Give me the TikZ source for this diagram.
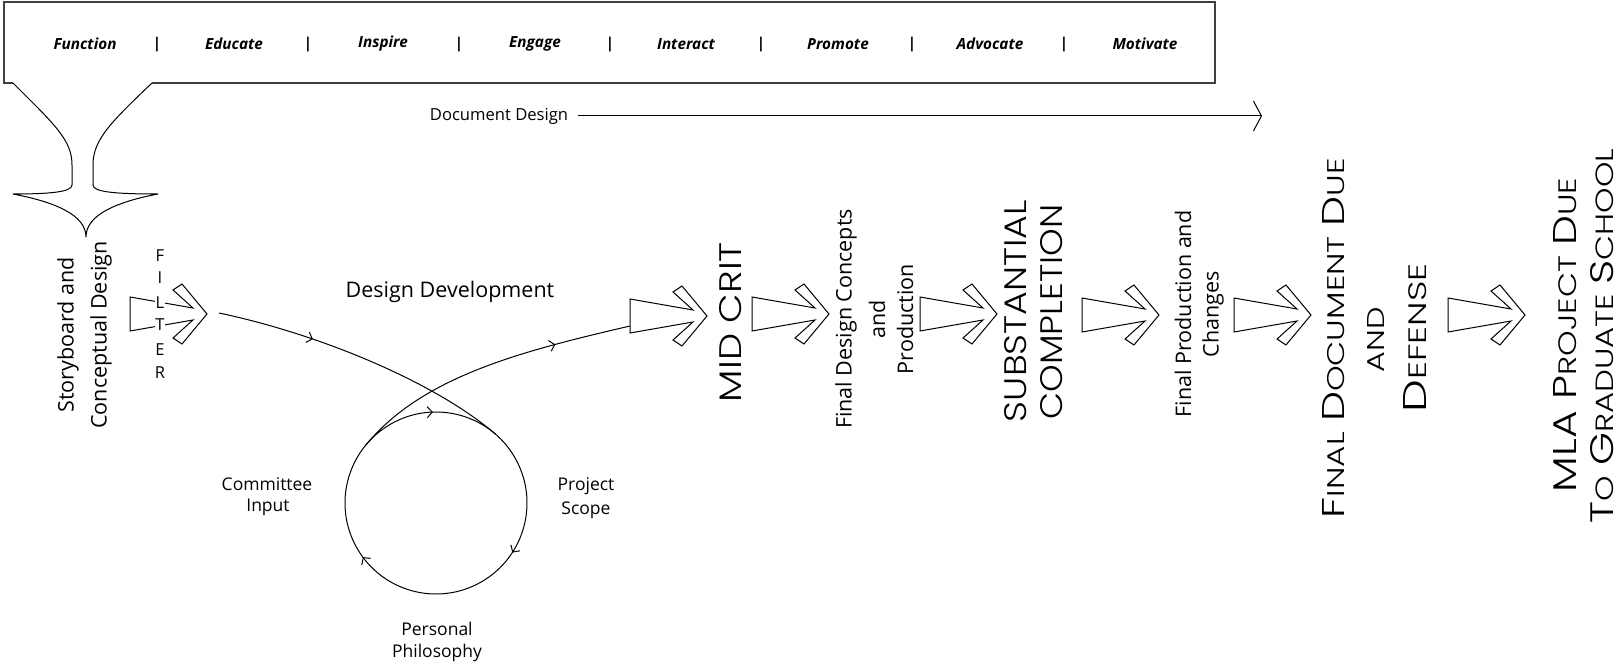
\documentclass[tikz,border=0pt]{standalone}
\usepackage{graphicx}
\usepackage{fontspec}
\setmainfont{Open Sans}
\newfontfamily\thinfont{Poppins Light}
\usetikzlibrary{arrows.meta,decorations.markings}
\newcommand\SCbig[1]{{\fontsize{30}{30}\selectfont #1}}
\newcommand\SCsmall[1]{{\fontsize{23}{23}\selectfont #1}}
\newcommand\SCfont{\thinfont\fontsize{26}{26}\selectfont}
\tikzset{
  lbl/.style={font=\fontsize{21.5}{30}\selectfont, inner sep=0pt, rotate=90},
  smalllbl/.style={font=\fontsize{17.5}{24}\selectfont, inner sep=0pt},
  toplbl/.style={font=\fontsize{15.3}{16}\selectfont\bfseries\itshape, inner sep=0pt},
  sepbar/.style={font=\fontsize{15}{16}\selectfont\bfseries, inner sep=0pt},
  capslbl/.style={inner sep=0pt, rotate=90},
  filterltr/.style={font=\fontsize{16.5}{18}\selectfont, inner sep=0.6pt, fill=white},
  boxline/.style={line width=1.2pt, draw=black!75},
  flow/.style={line width=1pt},
  midmark/.style={postaction={decorate}, decoration={markings,
     mark=at position #1 with {\arrow{Straight Barb[length=5pt,width=11pt]}}}},
  circmarks/.style={postaction={decorate}, decoration={markings,
     mark=at position 0.078 with {\arrow{Straight Barb[length=5pt,width=11pt]}},
     mark=at position 0.425 with {\arrow{Straight Barb[length=5pt,width=11pt]}},
     mark=at position 0.732 with {\arrow{Straight Barb[length=5pt,width=11pt]}}}},
  bigarrow/.pic={
    \draw[line width=1pt, fill=white] (0,17)--(63,6)--(43,24)--(52,30)--(77,0)
      --(52,-30)--(43,-24)--(63,-6)--(0,-17)--cycle;
    \coordinate (-in) at (0,0);
    \coordinate (-tip) at (77,0);
  }
}
\begin{document}
\begin{tikzpicture}[x=1pt,y=1pt]
\useasboundingbox (0,0) rectangle (1620,670);

% top bar with funnel
\draw[boxline] (13,587) -- (4,587) -- (4,668) -- (1215,668) -- (1215,587) -- (152,587);
\draw[line width=1pt] (13,587) .. controls (55,545) and (72,530) .. (72,505) -- (72,485)
  .. controls (72,478) and (50,476) .. (13,476)
  .. controls (55,468) and (86,455) .. (86,433)
  .. controls (86,455) and (116,468) .. (158,476)
  .. controls (115,476) and (93,478) .. (93,485) -- (93,505)
  .. controls (93,530) and (110,547) .. (152,587);

% top labels
\node[toplbl] (t1) at (85,626) {Function};
\node[toplbl] (t2) at (234,626) {Educate};
\node[toplbl] (t3) at (383,626) {Inspire};
\node[toplbl] (t4) at (535,626) {Engage};
\node[toplbl] (t5) at (686,626) {Interact};
\node[toplbl] (t6) at (838,626) {Promote};
\node[toplbl] (t7) at (990,626) {Advocate};
\node[toplbl] (t8) at (1145,626) {Motivate};
\node[sepbar] (s1) at (157,625) {|};
\node[sepbar] (s2) at (308,625) {|};
\node[sepbar] (s3) at (459,625) {|};
\node[sepbar] (s4) at (610,625) {|};
\node[sepbar] (s5) at (761,625) {|};
\node[sepbar] (s6) at (912,625) {|};
\node[sepbar] (s7) at (1064,625) {|};

% document design
\node[font=\fontsize{16.6}{20}\selectfont, inner sep=0pt] (docd) at (499,554) {Document Design};
\coordinate (docend) at (1262,554);
\draw[line width=1pt, -{Straight Barb[length=8pt,width=30pt]}] ([xshift=10pt]docd.east) -- (docend);

% big arrows
\pic (A1) at (130,356) {bigarrow};
\pic (A2) at (630,354) {bigarrow};
\pic (A3) at (752,356) {bigarrow};
\pic (A4) at (920,356) {bigarrow};
\pic (A5) at (1082,355) {bigarrow};
\pic (A6) at (1234,355) {bigarrow};
\pic (A7) at (1448,355) {bigarrow};

% FILTER letters
\node[filterltr] (f1) at (160,414) {F};
\node[filterltr] (f2) at (160,392) {I};
\node[filterltr] (f3) at (160,367) {L};
\node[filterltr] (f4) at (160,345) {T};
\node[filterltr] (f5) at (160,320) {E};
\node[filterltr] (f6) at (160,297) {R};

% storyboard
\node[lbl] (sb1) at (68,335) {Storyboard and};
\node[lbl] (sb2) at (101,335) {Conceptual Design};

% design development loop
\node[font=\fontsize{21.5}{26}\selectfont, inner sep=0pt] (dd) at (450,378) {Design Development};
\coordinate (cc) at (436,167);
\coordinate (inS) at (219,357);
\coordinate (tA) at (495.7,235.7);
\coordinate (tB) at (365.3,224.3);
\draw[flow, midmark=0.32] (inS) .. controls (319,336) and (435,288) .. (tA);
\draw[flow, circmarks] (cc) ++(120:91) arc[start angle=120, delta angle=-360, radius=91];
\draw[flow, midmark=0.74] (tB) .. controls (422,294) and (523,319) .. ([yshift=-10pt]A2-in);

\node[smalllbl] (ci1) at (267,186) {Committee};
\node[smalllbl] (ci2) at (268,163) {Input};
\node[smalllbl] (ps1) at (586,184) {Project};
\node[smalllbl] (ps2) at (586,160) {Scope};
\node[smalllbl] (pp1) at (437,41) {Personal};
\node[smalllbl] (pp2) at (437,17) {Philosophy};

% milestones
\node[capslbl] (mid) at (731,348) {\resizebox{160pt}{22pt}{\SCfont MID CRIT}};
\node[lbl] (fd1) at (846,351) {Final Design Concepts};
\node[lbl] (fd2) at (877,351) {and};
\node[lbl] (fd3) at (905,351) {Production};
\node[capslbl] (sc1) at (1016,359) {\resizebox{222pt}{22pt}{\SCfont SUBSTANTIAL}};
\node[capslbl] (sc2) at (1052,358) {\resizebox{215pt}{22pt}{\SCfont COMPLETION}};
\node[lbl] (fp1) at (1183,356) {Final Production and};
\node[lbl] (fp2) at (1213,356) {Changes};
\node[capslbl] (fdd1) at (1334,332) {\resizebox{360pt}{22pt}{\SCfont\SCbig{F}\SCsmall{INAL} \SCbig{D}\SCsmall{OCUMENT} \SCbig{D}\SCsmall{UE}}};
\node[capslbl] (fdd2) at (1376,330) {\resizebox{65pt}{17pt}{\SCfont\SCsmall{AND}}};
\node[capslbl] (fdd3) at (1415,332) {\resizebox{149pt}{23pt}{\SCfont\SCbig{D}\SCsmall{EFENSE}}};
\node[capslbl] (mla1) at (1565,335) {\resizebox{314pt}{23pt}{\SCfont\SCbig{MLA P}\SCsmall{ROJECT} \SCbig{D}\SCsmall{UE}}};
\node[capslbl] (mla2) at (1602,334) {\resizebox{375pt}{23pt}{\SCfont\SCbig{T}\SCsmall{O} \SCbig{G}\SCsmall{RADUATE} \SCbig{S}\SCsmall{CHOOL}}};
\end{tikzpicture}
\end{document}
